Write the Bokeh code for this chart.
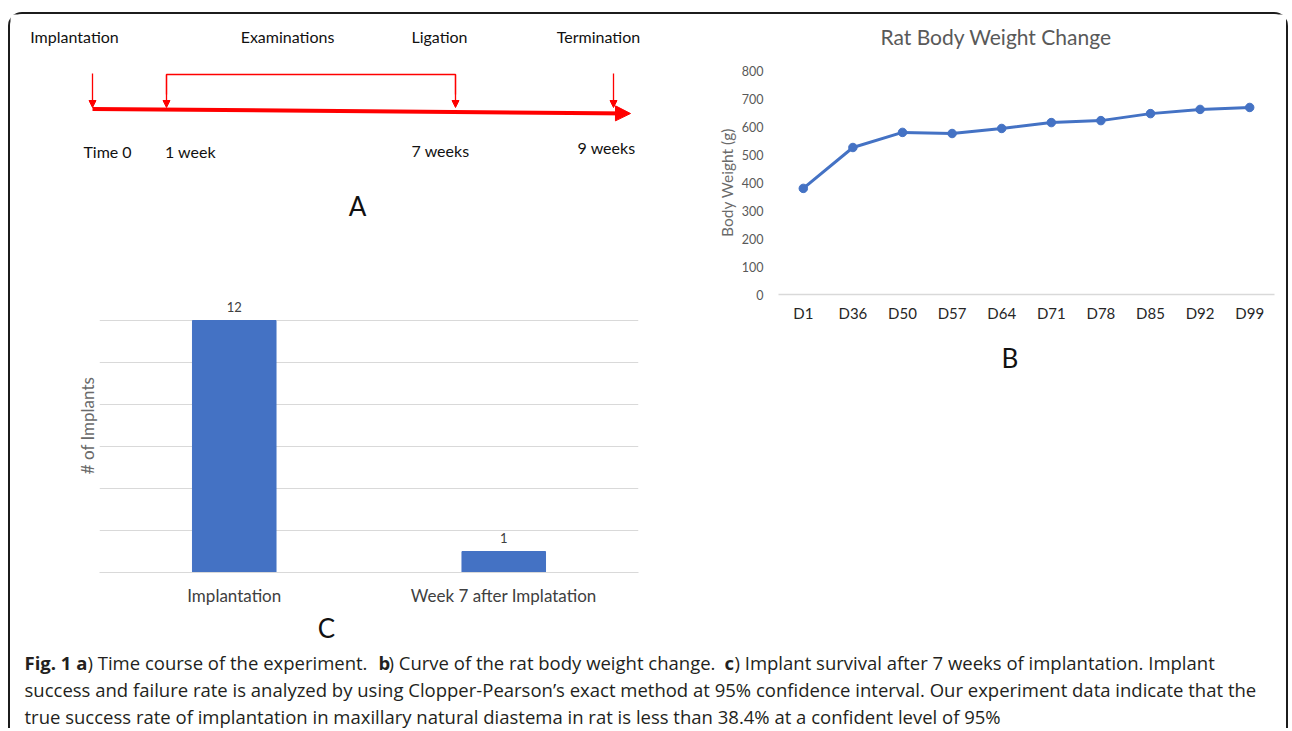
from bokeh.plotting import figure
from bokeh.models import (Range1d, FactorRange, Title, Arrow, NormalHead,
                          ColumnDataSource, SingleIntervalTicker, FixedTicker)
from bokeh.layouts import column, row
from bokeh.embed import file_html
from bokeh.resources import INLINE
from bokeh.core.properties import value

# ---------------- data ----------------
# Panel A: timeline of the experiment
event_labels = ["Implantation", "Examinations", "Ligation", "Termination"]
time_labels = ["Time 0", "1 week", "7 weeks", "9 weeks"]
time_weeks = [0, 1, 7, 9]

# Panel B: rat body weight
chart_b_title = "Rat Body Weight Change"
days = ["D1", "D36", "D50", "D57", "D64", "D71", "D78", "D85", "D92", "D99"]
weights = [379, 525, 579, 575, 593, 614, 621, 646, 661, 668]

# Panel C: implant survival
groups = ["Implantation", "Week 7 after Implatation"]
implant_counts = [12, 1]

caption_lines = [
    [("Fig. 1 a", True), (") Time course of the experiment. ", False), ("b", True),
     (") Curve of the rat body weight change. ", False), ("c", True),
     (") Implant survival after 7 weeks of implantation. Implant", False)],
    [("success and failure rate is analyzed by using Clopper-Pearson\u2019s exact method at 95% "
      "confidence interval. Our experiment data indicate that the", False)],
    [("true success rate of implantation in maxillary natural diastema in rat is less than "
      "38.4% at a confident level of 95%", False)],
]

# ---------------- styles / layout ----------------
RED = "#ff0000"
BLUE = "#4472C4"
FONT = "Lato"

# schematic (not to scale) diagram positions for panel A
tl_x = [82, 156, 445, 603]
ev_label_x = [64, 277, 429, 588]
time_label_x = [97, 180, 430, 596]
time_label_y = [137, 137, 136, 133]


def no_align(p):
    if "frame_align" in type(p).properties():
        p.frame_align = False


def blank(w, h):
    p = figure(width=w, height=h, x_range=Range1d(0, w), y_range=Range1d(h, 0),
               x_axis_type=None, y_axis_type=None, toolbar_location=None,
               output_backend="svg", min_border=0)
    p.min_border_left = p.min_border_right = p.min_border_top = p.min_border_bottom = 0
    p.outline_line_color = None
    p.grid.visible = False
    p.background_fill_color = "white"
    p.border_fill_color = "white"
    no_align(p)
    return p


# ---------- Panel A ----------
pA = blank(690, 236)
pA.text(x=ev_label_x, y=[22] * 4, text=event_labels, text_font=value(FONT),
        text_font_size="16px", text_align="center", text_baseline="middle", text_color="#111111")
pA.text(x=time_label_x, y=time_label_y, text=time_labels, text_font=value(FONT),
        text_font_size="16px", text_align="center", text_baseline="middle", text_color="#111111")
pA.text(x=[347], y=[191], text=["A"], text_font=value(FONT), text_font_size="26px",
        text_align="center", text_baseline="middle", text_color="#111111")
# main time axis
pA.add_layout(Arrow(end=NormalHead(size=15, fill_color=RED, line_color=RED, line_width=1),
                    x_start=tl_x[0], y_start=94.5, x_end=620, y_end=99,
                    line_color=RED, line_width=4))
# bracket between examinations (1 week) and ligation (7 weeks)
pA.line(x=[tl_x[1], tl_x[1], tl_x[2], tl_x[2]], y=[80, 60, 60, 80], line_color=RED, line_width=1.3)
for i, xx in enumerate(tl_x):
    ys = 60 if i in (1, 2) else 59
    pA.add_layout(Arrow(end=NormalHead(size=7, fill_color=RED, line_color=RED, line_width=1),
                        x_start=xx, y_start=ys, x_end=xx, y_end=93,
                        line_color=RED, line_width=1.3))

# ---------- Panel B ----------
pT = blank(586, 44)
pT.text(x=[180], y=[22], text=[chart_b_title], text_font=value(FONT), text_font_size="21px",
        text_align="left", text_baseline="middle", text_color="#595959")

pB = figure(width=586, height=342, x_range=FactorRange(*days), y_range=Range1d(0, 800),
            toolbar_location=None, output_backend="svg")
no_align(pB)
pB.min_border_left = 78
pB.min_border_right = 12
pB.min_border_top = 12
pB.min_border_bottom = 106
pB.outline_line_color = None
pB.grid.visible = False
pB.line(x=days, y=weights, line_color=BLUE, line_width=3)
pB.scatter(x=days, y=weights, size=8.5, fill_color=BLUE, line_color=BLUE)
pB.yaxis.ticker = SingleIntervalTicker(interval=100)
pB.yaxis.axis_line_color = None
pB.yaxis.major_tick_line_color = None
pB.yaxis.minor_tick_line_color = None
pB.yaxis.major_label_text_font = FONT
pB.yaxis.major_label_text_font_size = "12.5px"
pB.yaxis.major_label_text_color = "#595959"
pB.yaxis.major_label_standoff = 9
pB.yaxis.axis_label = "Body Weight (g)"
pB.yaxis.axis_label_text_font = FONT
pB.yaxis.axis_label_text_font_size = "15.5px"
pB.yaxis.axis_label_text_font_style = "normal"
pB.yaxis.axis_label_text_color = "#6a6a6a"
pB.yaxis.axis_label_standoff = 3
pB.xaxis.axis_line_color = "#d9d9d9"
pB.xaxis.axis_line_width = 1.5
pB.xaxis.major_tick_line_color = None
pB.xaxis.minor_tick_line_color = None
pB.xaxis.major_label_text_font = FONT
pB.xaxis.major_label_text_font_size = "15px"
pB.xaxis.major_label_text_color = "#262626"
pB.xaxis.major_label_standoff = 3
pB.add_layout(Title(text="B", align="left", offset=223, standoff=30, text_font=FONT,
                    text_font_size="26px", text_font_style="normal", text_color="#111111"), "below")

# ---------- Panel C ----------
pC = figure(width=690, height=360, x_range=FactorRange(*groups), y_range=Range1d(0, 14),
            toolbar_location=None, output_backend="svg")
no_align(pC)
pC.min_border_left = 89
pC.min_border_right = 62
pC.min_border_top = 28
pC.min_border_bottom = 38
pC.outline_line_color = None
pC.xgrid.visible = False
pC.ygrid.ticker = SingleIntervalTicker(interval=2)
pC.ygrid.grid_line_color = "#d9d9d9"
pC.ygrid.grid_line_width = 1.2
src_c = ColumnDataSource(dict(g=groups, n=implant_counts, lab=[str(v) for v in implant_counts]))
pC.vbar(x="g", top="n", width=0.31, source=src_c, fill_color=BLUE, line_color=BLUE)
pC.text(x="g", y="n", text="lab", source=src_c, y_offset=-9, text_font=value(FONT),
        text_font_size="13px", text_align="center", text_baseline="bottom", text_color="#404040")
pC.yaxis.ticker = FixedTicker(ticks=[])
pC.yaxis.axis_line_color = None
pC.yaxis.major_tick_line_color = None
pC.yaxis.minor_tick_line_color = None
pC.yaxis.major_label_standoff = 0
pC.yaxis.axis_label = "# of Implants"
pC.yaxis.axis_label_text_font = FONT
pC.yaxis.axis_label_text_font_size = "17px"
pC.yaxis.axis_label_text_font_style = "normal"
pC.yaxis.axis_label_text_color = "#6a6a6a"
pC.yaxis.axis_label_standoff = 2
pC.xaxis.axis_line_color = "#d9d9d9"
pC.xaxis.axis_line_width = 1.2
pC.xaxis.major_tick_line_color = None
pC.xaxis.minor_tick_line_color = None
pC.xaxis.major_label_text_font = FONT
pC.xaxis.major_label_text_font_size = "17px"
pC.xaxis.major_label_text_color = "#404040"
pC.xaxis.major_label_standoff = 6

# ---------- Caption (with panel letter C) ----------
pK = blank(1276, 118)
pK.text(x=[316], y=[17], text=["C"], text_font=value(FONT), text_font_size="26px",
        text_align="center", text_baseline="middle", text_color="#111111")
seg_x = [[14, 77, 368, 378, 714, 724], [14], [14]]
line_y = [52, 79, 106]
for li, segs in enumerate(caption_lines):
    for si, (txt, bold) in enumerate(segs):
        pK.text(x=[seg_x[li][si]], y=[line_y[li]], text=[txt], text_font=value("Open Sans"),
                text_font_size="18.5px", text_font_style="bold" if bold else "normal",
                text_align="left", text_baseline="middle", text_color="#231f20")

top = row(column(pA, pC, spacing=0), column(pT, pB, spacing=0), spacing=0)
outer = column(top, pK, spacing=0, margin=(12, 0, 0, 8),
               styles={"border-top": "2px solid #1c1c1c", "border-left": "2px solid #1c1c1c",
                       "border-right": "2px solid #1c1c1c",
                       "border-top-left-radius": "14px", "border-top-right-radius": "14px"})

open("out.html", "w").write(file_html(outer, INLINE))
